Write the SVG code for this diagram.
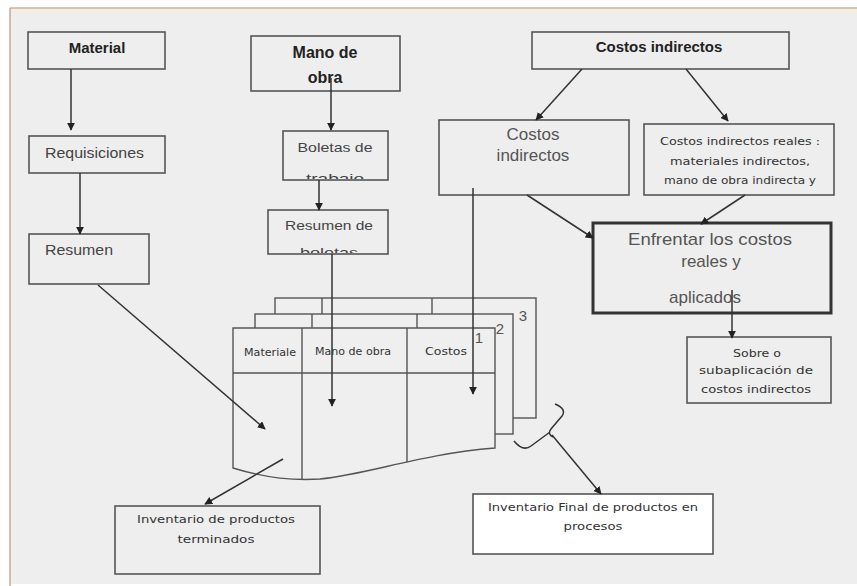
<svg xmlns="http://www.w3.org/2000/svg" width="857" height="586" viewBox="0 0 857 586">
<defs>
<style>
.box{fill:none;stroke:#555;stroke-width:1.6}
.wbox{fill:#fff;stroke:#555;stroke-width:1.6}
.ln{fill:none;stroke:#333;stroke-width:1.5}
.sheet{fill:#efefef;stroke:#555;stroke-width:1.4}
.sl{fill:none;stroke:#555;stroke-width:1.4}
.tb{font-family:"Liberation Sans",Arial,sans-serif;font-weight:bold;fill:#222;text-anchor:middle}
.tm{font-family:"Liberation Sans",Arial,sans-serif;fill:#444;}
.ts{font-family:"DejaVu Sans",Verdana,sans-serif;fill:#333;text-anchor:middle;font-size:10.5px}
.tg{font-family:"Liberation Sans",Arial,sans-serif;fill:#555;text-anchor:middle}
</style>
<marker id="ah" viewBox="0 0 10 10" refX="9" refY="5" markerWidth="8" markerHeight="8" markerUnits="userSpaceOnUse" orient="auto">
<path d="M0,0 L10,5 L0,10 z" fill="#222"/>
</marker>
<clipPath id="cb1"><rect x="284" y="132" width="103" height="47"/></clipPath>
<clipPath id="cb2"><rect x="269" y="211" width="118" height="42"/></clipPath>
</defs>
<rect x="0" y="0" width="857" height="586" fill="#fff"/>
<rect x="10" y="8" width="847" height="576" fill="#eeeeee"/>
<rect x="11" y="9" width="846" height="4" fill="#f6ede2"/>
<line x1="10" y1="8" x2="857" y2="8" stroke="#c9b2a2" stroke-width="1.5"/>
<line x1="10" y1="8" x2="10" y2="586" stroke="#c9aa96" stroke-width="1.5"/>

<g id="sheets">
<rect class="sheet" x="275" y="298" width="261" height="120"/>
<line class="sl" x1="322" y1="298" x2="322" y2="314"/>
<line class="sl" x1="432" y1="298" x2="432" y2="314"/>
<rect class="sheet" x="255" y="314" width="258" height="120"/>
<line class="sl" x1="312" y1="314" x2="312" y2="328"/>
<line class="sl" x1="417" y1="314" x2="417" y2="328"/>
<path class="sheet" d="M233,328 V468 C262,477 290,481 320,479 C370,474 420,454 495,448 V328 Z"/>
<line class="sl" x1="233" y1="373" x2="495" y2="373"/>
<line class="sl" x1="302" y1="328" x2="302" y2="479" stroke-width="2"/>
<line class="sl" x1="407" y1="328" x2="407" y2="462"/>
<text class="ts" x="270" y="356" font-size="9.5" textLength="52" lengthAdjust="spacingAndGlyphs">Materiale</text>
<text class="ts" x="353" y="355" font-size="10.5" textLength="76" lengthAdjust="spacingAndGlyphs">Mano de obra</text>
<text class="ts" x="446" y="355" font-size="10.5" textLength="42" lengthAdjust="spacingAndGlyphs">Costos</text>
<text class="tg" x="479" y="343" font-size="15">1</text>
<text class="tg" x="500" y="334" font-size="15">2</text>
<text class="tg" x="523" y="321" font-size="15">3</text>
</g>

<g id="material">
<rect class="box" x="28" y="32" width="137" height="37"/>
<text class="tb" x="97" y="53" font-size="15">Material</text>
</g>
<g id="mano-obra">
<rect class="box" x="251" y="36" width="149" height="55"/>
<text class="tb" x="325" y="58" font-size="16">Mano de</text>
<text class="tb" x="325" y="83" font-size="16">obra</text>
</g>
<g id="costos-indirectos">
<rect class="box" x="532" y="32" width="257" height="37"/>
<text class="tb" x="659" y="52" font-size="15">Costos indirectos</text>
</g>
<g id="requisiciones">
<rect class="box" x="29" y="136" width="136" height="37"/>
<text class="tm" x="45" y="158" font-size="14.5" textLength="99" lengthAdjust="spacingAndGlyphs">Requisiciones</text>
</g>
<g id="resumen">
<rect class="box" x="29" y="234" width="120" height="50"/>
<text class="tm" x="45" y="255" font-size="14.5" textLength="68" lengthAdjust="spacingAndGlyphs">Resumen</text>
</g>
<g id="boletas">
<rect class="box" x="283" y="131" width="105" height="49"/>
<g clip-path="url(#cb1)">
<text class="tm" x="335" y="152" font-size="13" text-anchor="middle" textLength="75" lengthAdjust="spacingAndGlyphs">Boletas de</text>
<text class="tm" x="335" y="183" font-size="13" text-anchor="middle" textLength="58" lengthAdjust="spacingAndGlyphs">trabajo</text>
</g>
</g>
<g id="resumen-boletas">
<rect class="box" x="268" y="210" width="120" height="44"/>
<g clip-path="url(#cb2)">
<text class="tm" x="329" y="230" font-size="13" text-anchor="middle" textLength="88" lengthAdjust="spacingAndGlyphs">Resumen de</text>
<text class="tm" x="329" y="257" font-size="13" text-anchor="middle" textLength="58" lengthAdjust="spacingAndGlyphs">boletas</text>
</g>
</g>
<g id="costos-aplicados">
<rect class="box" x="439" y="120" width="190" height="75"/>
<text class="tg" x="533" y="140" font-size="17">Costos</text>
<text class="tg" x="533" y="161" font-size="17">indirectos</text>
</g>
<g id="costos-reales">
<rect class="box" x="644" y="124" width="190" height="71"/>
<text class="ts" x="740" y="145" textLength="160" lengthAdjust="spacingAndGlyphs">Costos indirectos reales :</text>
<text class="ts" x="740" y="165" textLength="140" lengthAdjust="spacingAndGlyphs">materiales indirectos,</text>
<text class="ts" x="740" y="184" textLength="152" lengthAdjust="spacingAndGlyphs">mano de obra indirecta y</text>
</g>
<g id="enfrentar">
<rect x="593" y="223" width="238" height="90" fill="none" stroke="#333" stroke-width="3"/>
<text class="tg" x="710" y="245" font-size="17" textLength="164" lengthAdjust="spacingAndGlyphs">Enfrentar los costos</text>
<text class="tg" x="711" y="267" font-size="17">reales y</text>
<text class="tg" x="705" y="303" font-size="17">aplicados</text>
</g>
<g id="sobre-subaplicacion">
<rect class="box" x="687" y="337" width="144" height="66"/>
<text class="ts" x="757" y="357" textLength="48" lengthAdjust="spacingAndGlyphs">Sobre o</text>
<text class="ts" x="756" y="374" textLength="114" lengthAdjust="spacingAndGlyphs">subaplicación de</text>
<text class="ts" x="756" y="393" textLength="110" lengthAdjust="spacingAndGlyphs">costos indirectos</text>
</g>
<g id="inv-terminados">
<rect class="box" x="115" y="506" width="205" height="68"/>
<text class="ts" x="216" y="523" textLength="158" lengthAdjust="spacingAndGlyphs">Inventario de productos</text>
<text class="ts" x="216" y="543" textLength="77" lengthAdjust="spacingAndGlyphs">terminados</text>
</g>
<g id="inv-final">
<rect class="wbox" x="473" y="494" width="240" height="60"/>
<text class="ts" x="593" y="511" textLength="210" lengthAdjust="spacingAndGlyphs">Inventario Final de productos en</text>
<text class="ts" x="593" y="530" textLength="59" lengthAdjust="spacingAndGlyphs">procesos</text>
</g>

<g id="connectors">
<line class="ln" x1="71" y1="69" x2="71" y2="130" marker-end="url(#ah)"/>
<line class="ln" x1="80" y1="173" x2="80" y2="234" marker-end="url(#ah)"/>
<line class="ln" x1="331" y1="78" x2="331" y2="130" marker-end="url(#ah)"/>
<line class="ln" x1="319" y1="180" x2="319" y2="210" marker-end="url(#ah)"/>
<line class="ln" x1="332" y1="254" x2="332" y2="406" marker-end="url(#ah)"/>
<line class="ln" x1="473" y1="188" x2="473" y2="394" marker-end="url(#ah)"/>
<line class="ln" x1="98" y1="285" x2="265" y2="429" marker-end="url(#ah)"/>
<line class="ln" x1="283" y1="459" x2="205" y2="504" marker-end="url(#ah)"/>
<line class="ln" x1="582" y1="69" x2="536" y2="120" marker-end="url(#ah)"/>
<line class="ln" x1="686" y1="69" x2="728" y2="121" marker-end="url(#ah)"/>
<line class="ln" x1="527" y1="195" x2="593" y2="238" marker-end="url(#ah)"/>
<line class="ln" x1="745" y1="195" x2="701" y2="224" marker-end="url(#ah)"/>
<line class="ln" x1="732" y1="290" x2="732" y2="338" marker-end="url(#ah)"/>
<path class="ln" d="M555,404 Q567,409 562,416 L551,429 Q547,434 553,437 M550,432 L531,446 Q523,452 514,441" stroke="#555"/>
<line class="ln" x1="552" y1="435" x2="601" y2="494" marker-end="url(#ah)"/>
</g>
</svg>
